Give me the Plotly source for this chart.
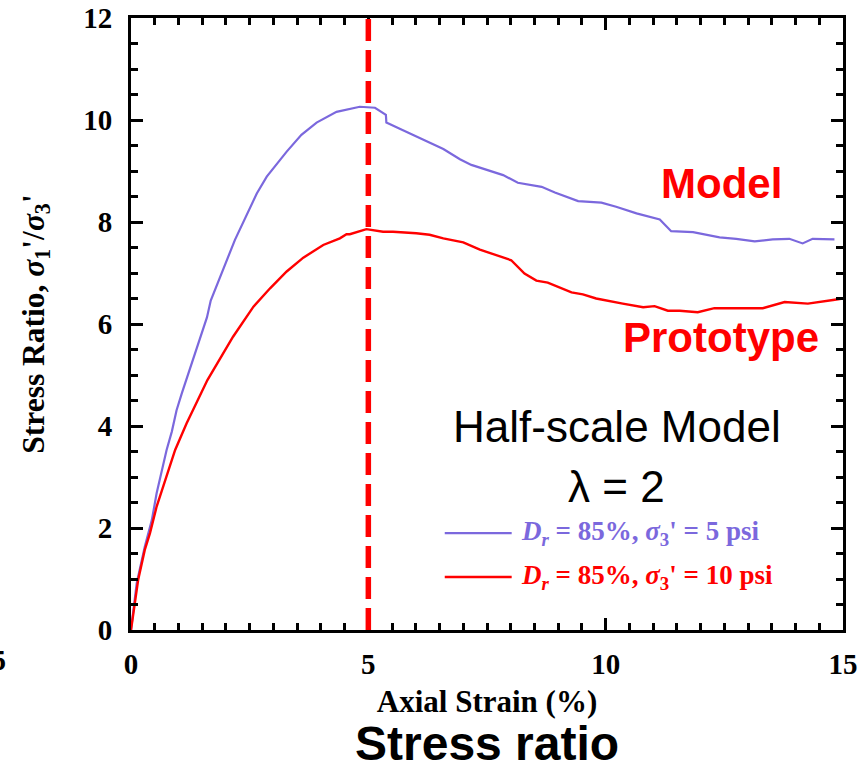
import plotly.graph_objects as go

# ---- data ----
model_strain = [0, 0.12, 0.29, 0.44, 0.54, 0.65, 0.75, 0.86, 0.96, 1.07, 1.16, 1.60, 1.68, 2.19, 2.65, 2.86,
                3.28, 3.59, 3.91, 4.33, 4.82, 5.14, 5.37, 5.38, 5.73, 6.15, 6.58, 6.93, 7.17, 7.84, 8.15,
                8.65, 8.93, 9.42, 9.91, 10.22, 10.65, 11.14, 11.38, 11.84, 12.40, 12.75, 13.14, 13.52,
                13.87, 14.15, 14.36, 14.82]
model_ratio = [0, 0.92, 1.63, 2.16, 2.68, 3.14, 3.53, 3.89, 4.31, 4.64, 4.90, 6.13, 6.46, 7.65, 8.56, 8.89,
               9.38, 9.71, 9.95, 10.16, 10.26, 10.24, 10.10, 9.95, 9.80, 9.61, 9.43, 9.23, 9.12, 8.92, 8.77,
               8.69, 8.58, 8.41, 8.38, 8.30, 8.17, 8.05, 7.82, 7.80, 7.70, 7.67, 7.62, 7.66,
               7.67, 7.58, 7.67, 7.66]

proto_strain = [0, 0.15, 0.29, 0.40, 0.54, 0.72, 0.93, 1.17, 1.42, 1.61, 2.15, 2.58, 2.93, 3.28, 3.63, 4.05,
                4.40, 4.54, 4.61, 4.96, 5.31, 5.52, 6.01, 6.29, 6.58, 7.00, 7.35, 8.01, 8.29, 8.54, 8.78,
                9.28, 9.52, 9.80, 10.36, 10.79, 11.03, 11.31, 11.56, 11.94, 12.29, 13.31, 13.77, 14.26,
                14.79, 15.0]
proto_ratio = [0, 0.98, 1.57, 1.90, 2.42, 2.94, 3.53, 4.05, 4.54, 4.90, 5.75, 6.34, 6.70, 7.03, 7.30, 7.55,
               7.68, 7.76, 7.76, 7.86, 7.81, 7.81, 7.78, 7.75, 7.68, 7.60, 7.46, 7.25, 6.99, 6.85, 6.81,
               6.62, 6.58, 6.50, 6.40, 6.33, 6.35, 6.26, 6.26, 6.23, 6.31, 6.31, 6.43, 6.40,
               6.47, 6.50]

x_ticks = [0, 5, 10, 15]
y_ticks = [0, 2, 4, 6, 8, 10, 12]
peak_strain = 5

PURPLE = "#7b68dd"
RED = "#ff0000"
SERIF = "Liberation Serif"
SANS = "Liberation Sans"

legend_names = [
    "<i>D</i><sub><i>r</i></sub> = 85%, <i>σ</i><sub>3</sub>' = 5 psi",
    "<i>D</i><sub><i>r</i></sub> = 85%, <i>σ</i><sub>3</sub>' = 10 psi",
]

fig = go.Figure()
fig.add_trace(go.Scatter(x=model_strain, y=model_ratio, mode="lines",
                         line=dict(color=PURPLE, width=2.2), name=legend_names[0], showlegend=False))
fig.add_trace(go.Scatter(x=proto_strain, y=proto_ratio, mode="lines",
                         line=dict(color=RED, width=2.4), name=legend_names[1], showlegend=False))

# vertical dashed line at peak strain
fig.add_shape(type="line", x0=peak_strain, x1=peak_strain, y0=0, y1=12, xref="x", yref="y",
              line=dict(color=RED, width=5.5, dash="22px,9px"))

# manual legend
leg_y = [1.90, 1.04]
leg_cols = [PURPLE, RED]
for yy, col, nm in zip(leg_y, leg_cols, legend_names):
    fig.add_shape(type="line", x0=6.61, x1=8.02, y0=yy, y1=yy, xref="x", yref="y",
                  line=dict(color=col, width=2.4))
    fig.add_annotation(x=8.17, y=yy, xref="x", yref="y", text=nm, showarrow=False,
                       xanchor="left", yanchor="middle",
                       font=dict(family=SERIF, size=27, color=col, weight="bold"))

fig.add_annotation(x=12.44, y=8.76, text="Model", showarrow=False,
                   font=dict(family=SANS, size=42, color=RED, weight="bold"))
fig.add_annotation(x=12.44, y=5.73, text="Prototype", showarrow=False,
                   font=dict(family=SANS, size=42, color=RED, weight="bold"))
fig.add_annotation(x=10.23, y=4.0, text="Half-scale Model", showarrow=False,
                   font=dict(family=SANS, size=44, color="black"))
fig.add_annotation(x=10.23, y=2.82, text="λ = 2", showarrow=False,
                   font=dict(family=SANS, size=44, color="black"))

# bottom caption
fig.add_annotation(x=0.5, y=-(743 - 630) / 612, xref="paper", yref="paper", text="Stress ratio",
                   showarrow=False, yanchor="middle",
                   font=dict(family=SANS, size=48, color="black", weight="bold"))
# cut-off tick label from neighbouring panel
fig.add_annotation(x=(8 - 131) / 712, y=(630 - 660) / 612, xref="paper", yref="paper", text="15",
                   showarrow=False, xanchor="right", yanchor="middle",
                   font=dict(family=SERIF, size=29, color="black", weight="bold"))

axis_common = dict(showline=True, linewidth=3, linecolor="black", mirror="ticks",
                   ticks="inside", ticklen=12, tickwidth=3, tickcolor="black",
                   showgrid=False, zeroline=False, automargin=False,
                   tickfont=dict(family=SERIF, size=29, color="black", weight="bold"))

fig.update_xaxes(range=[0, 15], tickvals=x_ticks, ticktext=[str(v) for v in x_ticks],
                 ticklabelstandoff=6,
                 minor=dict(ticks="inside", ticklen=7, tickwidth=3, tickcolor="black", dtick=0.5, showgrid=False),
                 title=dict(text="Axial Strain (%)", standoff=12,
                            font=dict(family=SERIF, size=31, color="black", weight="bold")),
                 **axis_common)
fig.update_yaxes(range=[0, 12], tickvals=y_ticks, ticktext=[str(v) for v in y_ticks],
                 ticklabelstandoff=10,
                 minor=dict(ticks="inside", ticklen=7, tickwidth=3, tickcolor="black", dtick=0.5, showgrid=False),
                 title=dict(text="Stress Ratio, <i>σ</i><sub>1</sub>'/<i>σ</i><sub>3</sub>'", standoff=30,
                            font=dict(family=SERIF, size=31.5, color="black", weight="bold")),
                 **axis_common)

fig.update_layout(width=868, height=771, margin=dict(l=131, r=25, t=18, b=141, autoexpand=False),
                  paper_bgcolor="white", plot_bgcolor="white", showlegend=False)

fig.write_html("out.html", config={"displayModeBar": False},
               post_script="document.body.style.margin='0px';")
